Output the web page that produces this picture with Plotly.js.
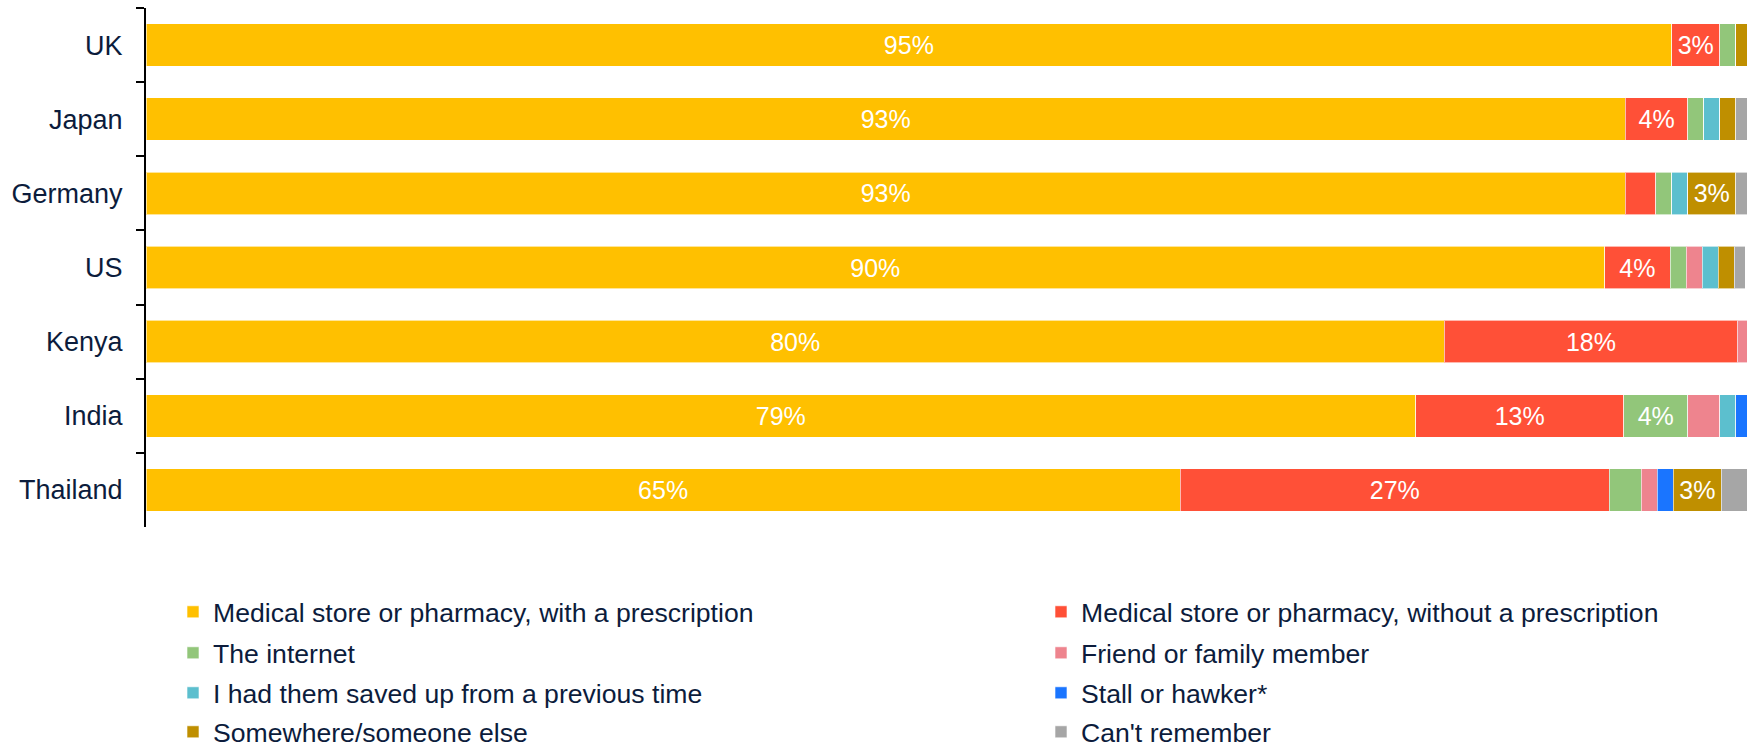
<!DOCTYPE html>
<html><head><meta charset="utf-8">
<script src="https://cdn.plot.ly/plotly-3.0.1.min.js"></script>
<style>html,body{margin:0;padding:0;background:#fff}#chart{width:1747px;height:747px}</style>
</head><body><div id="chart"></div>
<script>
// ---- data ----
const countries = ['UK', 'Japan', 'Germany', 'US', 'Kenya', 'India', 'Thailand'];

const seriesNames = [
  'Medical store or pharmacy, with a prescription',
  'Medical store or pharmacy, without a prescription',
  'The internet',
  'Friend or family member',
  'I had them saved up from a previous time',
  'Stall or hawker*',
  'Somewhere/someone else',
  "Can't remember"
];

const withRx       = [95.3, 92.4, 92.4, 91.1, 81.1, 79.3, 64.6];
const withoutRx    = [3.0, 3.9, 1.9, 4.1, 18.3, 13.0, 26.8];
const internet     = [1.0, 1.0, 1.0, 1.0, 0, 4.0, 2.0];
const friend       = [0, 0, 0, 1.0, 0.6, 2.0, 1.0];
const savedUp      = [0, 1.0, 1.0, 1.0, 0, 1.0, 0];
const stall        = [0, 0, 0, 0, 0, 0.7, 1.0];
const somewhere    = [0.7, 1.0, 3.0, 1.0, 0, 0, 3.0];
const cantRemember = [0, 0.7, 0.7, 0.7, 0, 0, 1.7];

const withRxLabels    = ['95%', '93%', '93%', '90%', '80%', '79%', '65%'];
const withoutRxLabels = ['3%', '4%', '', '4%', '18%', '13%', '27%'];
const internetLabels  = ['', '', '', '', '', '4%', ''];
const somewhereLabels = ['', '', '3%', '', '', '', '3%'];
const noLabels        = ['', '', '', '', '', '', ''];

// ---- styling ----
const colors = ['#FFC000', '#FF5037', '#92C67A', '#EE848E', '#5CBFCE', '#1A75FF', '#BF8F00', '#A6A6A6'];
const values = [withRx, withoutRx, internet, friend, savedUp, stall, somewhere, cantRemember];
const labels = [withRxLabels, withoutRxLabels, internetLabels, noLabels, noLabels, noLabels, somewhereLabels, noLabels];

const navy = '#0c1c3c';
const W = 1747, H = 747;
// legend grid (pixels): two columns, four rows
const legendCols = [173, 1041];
const legendRows = [612, 653, 693, 732];

const traces = values.map((v, i) => ({
  type: 'bar',
  orientation: 'h',
  name: seriesNames[i],
  y: countries,
  x: v,
  text: labels[i],
  textposition: 'inside',
  insidetextanchor: 'middle',
  textangle: 0,
  constraintext: 'none',
  textfont: {family: 'Arial, Liberation Sans, sans-serif', size: 25, color: '#ffffff'},
  marker: {color: colors[i], line: {color: 'rgba(255,255,255,0.6)', width: 1}},
  hoverinfo: 'skip',
  legend: i === 0 ? 'legend' : 'legend' + (i + 1)
}));

const layout = {
  width: W, height: H,
  barmode: 'stack',
  bargap: 0.426,
  margin: {l: 146, r: 0, t: 8, b: 220, pad: 0, autoexpand: false},
  paper_bgcolor: '#ffffff',
  plot_bgcolor: '#ffffff',
  font: {family: 'Arial, Liberation Sans, sans-serif', color: navy},
  xaxis: {range: [0, 100], visible: false, fixedrange: true},
  yaxis: {
    type: 'category',
    categoryorder: 'array',
    categoryarray: countries,
    autorange: false,
    range: [6.5, -0.5],
    showline: true, linecolor: '#000000', linewidth: 2,
    ticks: 'outside', tickson: 'boundaries', ticklen: 8, tickwidth: 2, tickcolor: '#000000',
    tickfont: {size: 27, color: navy},
    ticklabelstandoff: 16,
    showgrid: false, zeroline: false, fixedrange: true
  },
  showlegend: true
};

values.forEach((v, i) => {
  const key = i === 0 ? 'legend' : 'legend' + (i + 1);
  const col = i % 2, row = Math.floor(i / 2);
  layout[key] = {
    xref: 'container', yref: 'container',
    x: legendCols[col] / W, y: 1 - legendRows[row] / H,
    xanchor: 'left', yanchor: 'middle',
    orientation: 'v',
    bgcolor: 'rgba(0,0,0,0)', borderwidth: 0,
    font: {size: 26.6, color: navy, family: 'Arial, Liberation Sans, sans-serif'},
    itemclick: false, itemdoubleclick: false
  };
});

Plotly.newPlot('chart', traces, layout, {displayModeBar: false, staticPlot: true});
</script>
</body></html>
